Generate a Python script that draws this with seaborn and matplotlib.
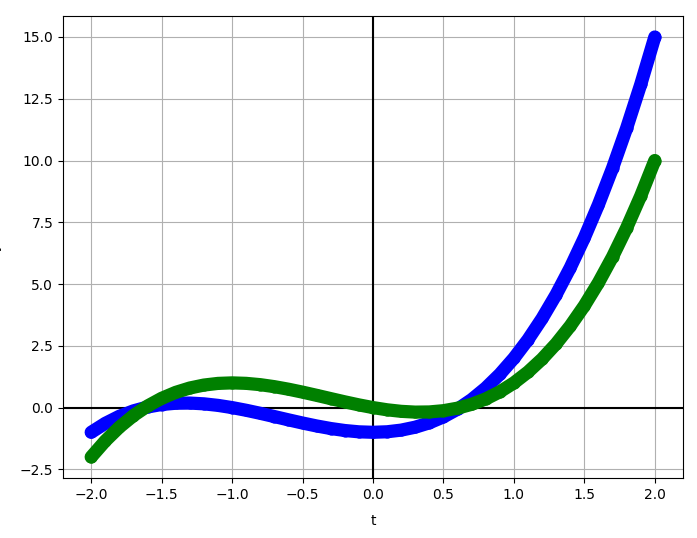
import matplotlib
matplotlib.use("Agg")
import matplotlib.pyplot as plt
import seaborn as sns
import pandas as pd

t_values = [-2.0, -1.9, -1.8, -1.7, -1.6, -1.5, -1.4, -1.3, -1.2, -1.1, -1.0,
            -0.9, -0.8, -0.7, -0.6, -0.5, -0.4, -0.3, -0.2, -0.1, 0.0,
            0.1, 0.2, 0.3, 0.4, 0.5, 0.6, 0.7, 0.8, 0.9, 1.0,
            1.1, 1.2, 1.3, 1.4, 1.5, 1.6, 1.7, 1.8, 1.9, 2.0]

blue_values = [-1.0, -0.639, -0.352, -0.133, 0.024, 0.125, 0.176, 0.183, 0.152, 0.089, 0.0,
               -0.109, -0.232, -0.363, -0.496, -0.625, -0.744, -0.847, -0.928, -0.981, -1.0,
               -0.979, -0.912, -0.793, -0.616, -0.375, -0.064, 0.323, 0.792, 1.349, 2.0,
               2.751, 3.608, 4.577, 5.664, 6.875, 8.216, 9.693, 11.312, 13.079, 15.0]

green_values = [-2.0, -1.349, -0.792, -0.323, 0.064, 0.375, 0.616, 0.793, 0.912, 0.979, 1.0,
                0.981, 0.928, 0.847, 0.744, 0.625, 0.496, 0.363, 0.232, 0.109, 0.0,
                -0.089, -0.152, -0.183, -0.176, -0.125, -0.024, 0.133, 0.352, 0.639, 1.0,
                1.441, 1.968, 2.587, 3.304, 4.125, 5.056, 6.103, 7.272, 8.569, 10.0]

df = pd.DataFrame({"t": t_values, "blue": blue_values, "green": green_values})

fig = plt.figure(figsize=(6.97, 5.38), dpi=100)
ax = fig.add_axes([63 / 697, 60 / 538, 620 / 697, 462 / 538])

ax.grid(True, color="#b0b0b0", linewidth=0.8)
ax.set_axisbelow(True)

style = dict(linewidth=9.5, marker="o", markersize=8.8, markeredgewidth=0,
             solid_capstyle="round", solid_joinstyle="round")
sns.lineplot(data=df, x="t", y="blue", color="blue", ax=ax, **style)
sns.lineplot(data=df, x="t", y="green", color="green", ax=ax, **style)

ax.axhline(0, color="black", linewidth=1.5, zorder=1.5)
ax.axvline(0, color="black", linewidth=1.5, zorder=1.5)

ax.set_xticks([-2.0, -1.5, -1.0, -0.5, 0.0, 0.5, 1.0, 1.5, 2.0])
ax.set_yticks([-2.5, 0.0, 2.5, 5.0, 7.5, 10.0, 12.5, 15.0])
ax.set_xlabel("t", labelpad=9)
ax.set_ylabel("y")
ax.yaxis.set_label_coords((1.5 - 63) / 620, 0.5)

fig.savefig("out.png", dpi=100)
